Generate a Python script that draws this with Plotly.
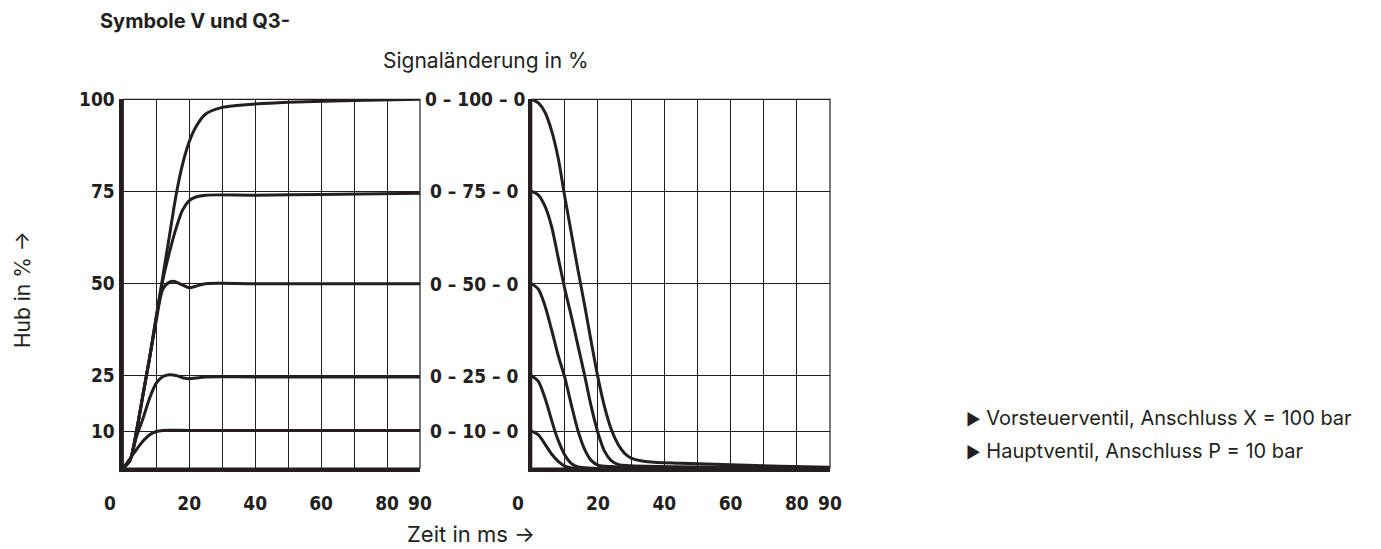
import plotly.graph_objects as go

# the page puts the figure 8 px in from the top-left corner; size it to fit the window
OFF = 8
W, H = 1381 - OFF, 549 - OFF
INK = "#231f20"

# ---------------- data ----------------
levels = [10, 25, 50, 75, 100]
level_labels = ["0 – 10 – 0", "0 – 25 – 0", "0 – 50 – 0", "0 – 75 – 0", "0 – 100 – 0"]
x_tick_vals = [0, 10, 20, 30, 40, 50, 60, 70, 80, 90]
x_tick_text = ["", "", "20", "", "40", "", "60", "", "80", "90"]

# rising (step up) responses, time in ms / stroke in %
up_t_100 = [0, 2, 4, 6, 8, 10, 12, 14, 16, 18, 20, 22, 25, 30, 40, 50, 70, 90]
up_h_100 = [0, 2, 10, 20, 30, 41, 52, 63, 74, 82.5, 88.5, 92.5, 96, 97.8, 98.7, 99.2, 99.7, 100]
up_t_75 = [0, 2, 4, 6, 8, 10, 12, 14, 16, 18, 20, 22, 25, 40, 60, 90]
up_h_75 = [0, 2, 10, 20, 30, 41, 51, 58.5, 65, 70, 72.5, 73.5, 74, 74, 74.2, 74.5]
up_t_50 = [0, 2, 4, 6, 8, 10, 12, 14, 15.5, 18, 20, 22, 25, 40, 90]
up_h_50 = [0, 2, 10, 20, 30, 40, 48.5, 50.4, 50.6, 49.6, 48.9, 49.3, 50, 50, 50]
up_t_25 = [0, 2, 4, 6, 8, 10, 12, 14, 16, 18, 20, 22, 25, 40, 90]
up_h_25 = [0, 2, 8.5, 13.5, 19, 23, 24.8, 25.3, 25.1, 24.5, 24.2, 24.4, 24.7, 24.7, 24.7]
up_t_10 = [0, 2, 4, 6, 8, 10, 12, 20, 90]
up_h_10 = [0, 2.5, 5, 7.3, 9, 9.9, 10.2, 10.2, 10.2]

# falling (step down) responses
dn_t_100 = [0, 2, 4, 6, 8, 10, 12, 14, 16, 18, 20, 22, 24, 26, 28, 30, 35, 45, 60, 75, 90]
dn_h_100 = [100, 99, 96.5, 91.5, 84, 73.5, 63.5, 53.5, 44, 34, 24.5, 16.5, 10.5, 6.5, 4, 2.7, 1.7, 1.3, 0.9, 0.5, 0.2]
dn_t_75 = [0, 2, 4, 6, 8, 10, 12, 14, 16, 18, 20, 22, 24, 26, 30, 90]
dn_h_75 = [75, 74, 71, 65.5, 57, 48.5, 41, 33, 25, 16.5, 9.5, 4.5, 2, 1, 0.6, 0.1]
dn_t_50 = [0, 2, 4, 6, 8, 10, 12, 14, 16, 18, 20, 24, 90]
dn_h_50 = [50, 48.5, 44, 37.5, 30.5, 24.5, 17, 10, 5, 2, 0.8, 0.4, 0]
dn_t_25 = [0, 2, 4, 6, 7, 8, 10, 12, 14, 90]
dn_h_25 = [25, 23.5, 19, 13, 10, 7.5, 3.5, 1.2, 0.3, 0]
dn_t_10 = [0, 2, 4, 6, 8, 10, 12, 90]
dn_h_10 = [10, 9, 6.5, 3.8, 1.8, 0.5, 0, 0]

# ---------------- figure ----------------
def px_x(p):
    return (p - OFF) / W

def px_y(p):
    return 1 - (p - OFF) / H

fig = go.Figure()

up = [(up_t_10, up_h_10), (up_t_25, up_h_25), (up_t_50, up_h_50), (up_t_75, up_h_75), (up_t_100, up_h_100)]
dn = [(dn_t_10, dn_h_10), (dn_t_25, dn_h_25), (dn_t_50, dn_h_50), (dn_t_75, dn_h_75), (dn_t_100, dn_h_100)]
for t, h in up:
    fig.add_trace(go.Scatter(x=t, y=h, mode="lines", xaxis="x", yaxis="y",
                             line=dict(color=INK, width=3, shape="spline", smoothing=0.8),
                             showlegend=False, hoverinfo="skip"))
for t, h in dn:
    fig.add_trace(go.Scatter(x=t, y=h, mode="lines", xaxis="x2", yaxis="y2",
                             line=dict(color=INK, width=3, shape="spline", smoothing=0.8),
                             showlegend=False, hoverinfo="skip"))

tick_font = dict(family="Liberation Sans Narrow, Arial Narrow, DejaVu Sans Condensed, sans-serif",
                 size=19, color=INK, weight="bold")
TXT = "Inter, Roboto, Liberation Sans, sans-serif"
text_font = dict(family=TXT, size=21, color=INK)

xdom1 = [px_x(123.3), px_x(420)]
xdom2 = [px_x(531.7), px_x(830)]
ydom = [px_y(468), px_y(99.3)]

common_x = dict(range=[0, 90], tickmode="array", tickvals=x_tick_vals, ticktext=x_tick_text,
                showgrid=True, gridcolor=INK, gridwidth=1.2, zeroline=False,
                showline=True, linecolor=INK, linewidth=3.5, automargin=False,
                ticks="outside", ticklen=15, tickcolor="rgba(0,0,0,0)",
                tickfont=tick_font, fixedrange=True)
common_y = dict(range=[0, 100], tickmode="array", tickvals=levels,
                showgrid=True, gridcolor=INK, gridwidth=1.2, zeroline=False, automargin=False,
                showline=True, linecolor=INK, linewidth=3.5, fixedrange=True)

fig.update_layout(
    width=W, height=H,
    margin=dict(l=0, r=0, t=0, b=0, autoexpand=False),
    paper_bgcolor="white", plot_bgcolor="white",
    showlegend=False,
    xaxis=dict(domain=xdom1, anchor="y", **common_x),
    yaxis=dict(domain=ydom, anchor="x", ticktext=[str(v) for v in levels],
               ticks="outside", ticklen=1, tickcolor="rgba(0,0,0,0)", tickfont=tick_font, **common_y),
    xaxis2=dict(domain=xdom2, anchor="y2", **common_x),
    yaxis2=dict(domain=ydom, anchor="x2", showticklabels=False, ticks="", **common_y),
)

# thin frames (top & right borders)
for xr, yr in [("x domain", "y domain"), ("x2 domain", "y2 domain")]:
    fig.add_shape(type="rect", xref=xr, yref=yr, x0=0, x1=1, y0=0, y1=1,
                  line=dict(color=INK, width=1.2), layer="below")

# "0" tick labels, set off to the left of each axis (4 ms before the origin)
for xr in ["x domain", "x2 domain"]:
    fig.add_annotation(x=-4 / 90, xref=xr, y=px_y(503), yref="paper", text="0", showarrow=False,
                       font=tick_font, xanchor="center", yanchor="middle")

# level labels between the panels
for v, lab in zip(levels, level_labels):
    fig.add_annotation(x=px_x(474.5), xref="paper", y=v, yref="y2", text=lab, showarrow=False,
                       font=tick_font, xanchor="center", yanchor="middle")

fig.add_annotation(x=px_x(99), y=px_y(21), xref="paper", yref="paper", text="<b>Symbole V und Q3-</b>",
                   showarrow=False, xanchor="left", yanchor="middle", borderpad=0,
                   font=dict(family=TXT, size=20, color=INK))
fig.add_annotation(x=px_x(486), y=px_y(60), xref="paper", yref="paper", text="Signaländerung in %",
                   showarrow=False, xanchor="center", yanchor="middle", font=text_font)
fig.add_annotation(x=px_x(471), y=px_y(534), xref="paper", yref="paper", text="Zeit in ms →",
                   showarrow=False, xanchor="center", yanchor="middle", font=dict(text_font, size=22))
fig.add_annotation(x=px_x(22), y=px_y(290), xref="paper", yref="paper", text="Hub in % →",
                   textangle=-90, showarrow=False, xanchor="center", yanchor="middle", borderpad=0,
                   font=text_font)
tri = '<span style="font-size:16px">▶</span>'
fig.add_annotation(x=px_x(964), y=px_y(418), xref="paper", yref="paper",
                   text=tri + " Vorsteuerventil, Anschluss X = 100 bar",
                   showarrow=False, xanchor="left", yanchor="middle", font=dict(text_font, size=20))
fig.add_annotation(x=px_x(964), y=px_y(451), xref="paper", yref="paper",
                   text=tri + " Hauptventil, Anschluss P = 10 bar",
                   showarrow=False, xanchor="left", yanchor="middle", font=dict(text_font, size=20))

fig.write_html("out.html")
